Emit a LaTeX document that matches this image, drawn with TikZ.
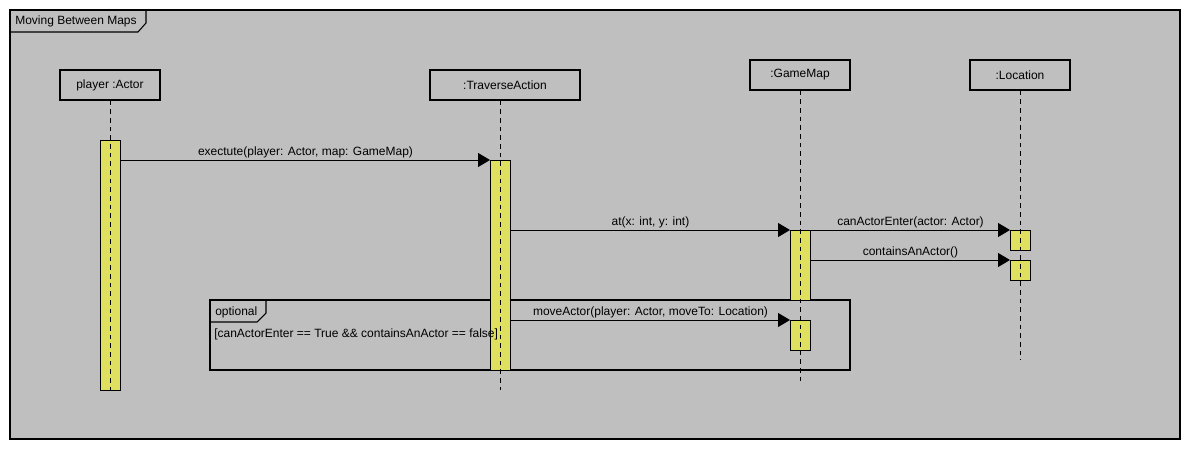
\documentclass[tikz,border=0pt]{standalone}
\usepackage{fontspec}
\setmainfont{Liberation Sans}
\usetikzlibrary{arrows.meta}
\definecolor{bggrey}{HTML}{BFBFBF}
\definecolor{actyellow}{HTML}{E0E060}
\tikzset{
  head/.style={draw=black, line width=0.8pt, fill=bggrey, minimum width=75pt, minimum height=22.5pt, inner sep=0pt, font=\fontsize{9}{11}\selectfont},
  act/.style={draw=black, line width=0.75pt, fill=actyellow, minimum width=15pt, inner sep=0pt},
  life/.style={draw=black, line width=0.75pt, dash pattern=on 3.5pt off 3pt},
  msg/.style={draw=black, line width=0.75pt, -{Triangle[length=9pt,width=10.5pt]}},
  lbl/.style={font=\fontsize{9}{11}\selectfont, inner sep=1pt, anchor=south},
  txt/.style={font=\fontsize{9}{11}\selectfont, inner sep=0pt, anchor=west},
}
\begin{document}
\begin{tikzpicture}[x=0.75pt, y=-0.75pt]
\useasboundingbox (0,0) rectangle (1190,450);
\fill[white] (0,0) rectangle (1190,450);
% outer frame
\draw[line width=0.8pt, fill=bggrey] (10,10) rectangle (1180,439);
\draw[line width=0.8pt] (10,32) -- (138,32) -- (146,23) -- (146,10);
\node[txt] (title) at (15,21) {Moving Between Maps};
% heads
\node[head, minimum width=75pt] (h1) at (110,85) {player :Actor};
\node[head, minimum width=112.5pt] (h2) at (505,85) {:TraverseAction};
\node[head] (h3) at (800,75) {:GameMap};
\node[head] (h4) at (1020,75) {:Location};
% fragment
\draw[line width=0.8pt] (210,300) rectangle (850,370);
\draw[line width=0.8pt] (210,322) -- (257,322) -- (266,313) -- (266,300);
\node[txt] (optl) at (215,312) {optional};
% activations
\node[act, minimum height=187.5pt, anchor=north west] (a1) at (100,140) {};
\node[act, minimum height=157.5pt, anchor=north west] (a2) at (490,160) {};
\node[act, minimum height=52.5pt, anchor=north west] (a3) at (790,230) {};
\node[act, minimum height=22.5pt, anchor=north west] (a4) at (790,320) {};
\node[act, minimum height=15pt, anchor=north west] (l1) at (1010,230) {};
\node[act, minimum height=15pt, anchor=north west] (l2) at (1010,260) {};
% lifelines
\coordinate (e1) at (110,392);
\coordinate (e2) at (500,390);
\coordinate (e3) at (800,385);
\coordinate (e4) at (1020,360);
\draw[life] (h1.south) -- (e1);
\draw[life] (h2.south -| e2) -- (e2);
\draw[life] (h3.south) -- (e3);
\draw[life] (h4.south) -- (e4);
% messages
\draw[msg] (a1.east |- a2.north west) -- node[lbl] {exectute(player: Actor, map: GameMap)} (a2.north west);
\draw[msg] (a2.east |- a3.north west) -- node[lbl] {at(x: int, y: int)} (a3.north west);
\draw[msg] (a3.east |- l1.north west) -- node[lbl] {canActorEnter(actor: Actor)} (l1.north west);
\draw[msg] (a3.east |- l2.north west) -- node[lbl] {containsAnActor()} (l2.north west);
\draw[msg] (a2.east |- a4.north west) -- node[lbl] {moveActor(player: Actor, moveTo: Location)} (a4.north west);
% guard
\node[txt] (guard) at (214,334) {[canActorEnter == True \&\& containsAnActor == false]};
\end{tikzpicture}
\end{document}
